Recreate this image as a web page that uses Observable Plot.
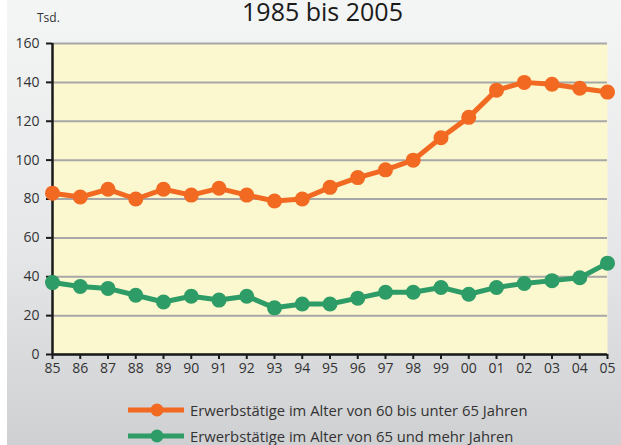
<!DOCTYPE html>
<html>
<head>
<meta charset="utf-8">
<script src="https://cdn.jsdelivr.net/npm/d3@7"></script>
<script src="https://cdn.jsdelivr.net/npm/@observablehq/plot@0.6"></script>
<style>
  html, body { margin: 0; padding: 0; background: #fff; }
  #wrap { position: relative; width: 621px; height: 445px; overflow: hidden; font-family: "Open Sans", sans-serif; color: #333; }
  #bg { position: absolute; left: 7px; top: 0; width: 614px; height: 445px; background: linear-gradient(to bottom, #f4f5f5 0%, #e6e7e8 55%, #cfd0d2 100%); }
  #title { position: absolute; left: 12px; width: 621px; top: 0px; line-height: 23px; text-align: center; font-size: 25px; color: #1a1a1a; }
  #unit { position: absolute; left: 37px; top: 9px; font-size: 12px; color: #333; }
  #chart { position: absolute; left: 0; top: 0; }
  .leg { position: absolute; left: 127px; font-size: 14.8px; color: #333; display: flex; align-items: center; white-space: nowrap; }
  .leg svg { margin-right: 5px; }
</style>
</head>
<body>
<div id="wrap">
  <div id="bg"></div>
  <div id="title">1985 bis 2005</div>
  <div id="unit">Tsd.</div>
  <div id="chart"></div>
  <div class="leg" id="leg1" style="top:400px"></div>
  <div class="leg" id="leg2" style="top:426px"></div>
</div>
<script>
const years = ["85","86","87","88","89","90","91","92","93","94","95","96","97","98","99","00","01","02","03","04","05"];
const age60to65 = [83,81,85,80,85,82,85.5,82,79,80,86,91,95,100,111.5,122,136,140,139,137,135];
const age65plus = [37,35,34,30.5,27,30,28,30,24,26,26,29,32,32,34.5,31,34.5,36.5,38,39.5,47];
const seriesNames = ["Erwerbstätige im Alter von 60 bis unter 65 Jahren", "Erwerbstätige im Alter von 65 und mehr Jahren"];
const colors = ["#f26922", "#2e9c66"];
const yTicks = [0,20,40,60,80,100,120,140,160];

const s1 = years.map((y, i) => ({year: y, value: age60to65[i]}));
const s2 = years.map((y, i) => ({year: y, value: age65plus[i]}));

const chart = Plot.plot({
  width: 621,
  height: 384,
  marginLeft: 52,
  marginRight: 14,
  marginTop: 43,
  marginBottom: 30,
  style: {background: "transparent", fontSize: "14px", fontFamily: "'Open Sans', sans-serif", color: "#333"},
  x: {type: "point", domain: years, padding: 0, round: false},
  y: {domain: [0, 160]},
  marks: [
    Plot.frame({fill: "#fbf8cf", stroke: null}),
    Plot.gridY(yTicks, {stroke: "#a7a7a7", strokeWidth: 2, strokeOpacity: 1}),
    Plot.axisY(yTicks, {tickSize: 6, tickPadding: 7, stroke: "#1a1a1a", strokeWidth: 2, label: null}),
    Plot.axisX(years, {tickSize: 5, tickPadding: 4, stroke: "#1a1a1a", strokeWidth: 2, label: null}),
    Plot.ruleX([years[0]], {stroke: "#1a1a1a", strokeWidth: 2.5}),
    Plot.ruleY([0], {stroke: "#1a1a1a", strokeWidth: 2.5}),
    Plot.line(s1, {x: "year", y: "value", stroke: colors[0], strokeWidth: 5}),
    Plot.dot(s1, {x: "year", y: "value", fill: colors[0], r: 7.5}),
    Plot.line(s2, {x: "year", y: "value", stroke: colors[1], strokeWidth: 5}),
    Plot.dot(s2, {x: "year", y: "value", fill: colors[1], r: 7.5})
  ]
});
document.getElementById("chart").appendChild(chart);

function swatch(c) {
  return `<svg width="58" height="16"><line x1="1" y1="8" x2="57" y2="8" stroke="${c}" stroke-width="5"/><circle cx="30" cy="8" r="6.5" fill="${c}"/></svg>`;
}
document.getElementById("leg1").innerHTML = swatch(colors[0]) + `<span>${seriesNames[0]}</span>`;
document.getElementById("leg2").innerHTML = swatch(colors[1]) + `<span>${seriesNames[1]}</span>`;
</script>
</body>
</html>
